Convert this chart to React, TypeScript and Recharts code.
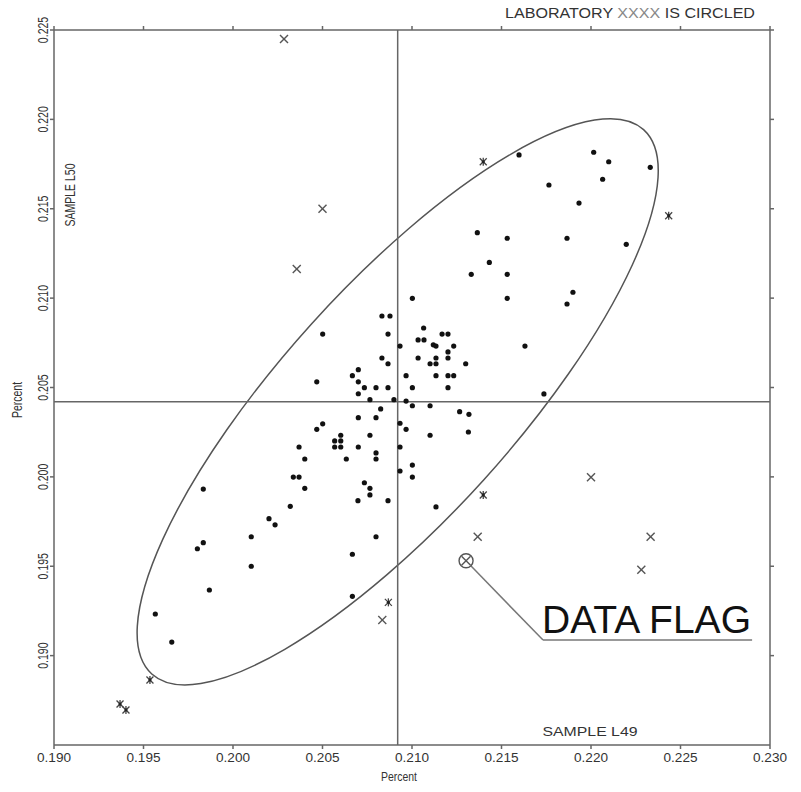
import React from 'react';
import { ScatterChart, Scatter, XAxis, YAxis, ReferenceLine, ReferenceArea, ReferenceDot } from 'recharts';

const FONT = "'Liberation Sans', Arial, sans-serif";

const xTicks = [0.19, 0.195, 0.2, 0.205, 0.21, 0.215, 0.22, 0.225, 0.23];
const yTicks = [0.19, 0.195, 0.2, 0.205, 0.21, 0.215, 0.22, 0.225];

// laboratories (filled dots)
const labPoints = [
  { x: 0.21598, y: 0.21801 }, { x: 0.22015, y: 0.21816 }, { x: 0.22099, y: 0.21763 }, { x: 0.22331, y: 0.21732 },
  { x: 0.22065, y: 0.21665 }, { x: 0.21765, y: 0.21633 }, { x: 0.21933, y: 0.21532 }, { x: 0.21365, y: 0.21366 },
  { x: 0.21532, y: 0.21335 }, { x: 0.21866, y: 0.21335 }, { x: 0.22197, y: 0.21301 }, { x: 0.21432, y: 0.212 },
  { x: 0.21331, y: 0.21133 }, { x: 0.21532, y: 0.21133 }, { x: 0.21532, y: 0.20999 }, { x: 0.21899, y: 0.21033 },
  { x: 0.21866, y: 0.20967 }, { x: 0.21002, y: 0.20999 }, { x: 0.20832, y: 0.209 }, { x: 0.20877, y: 0.209 },
  { x: 0.21065, y: 0.20833 }, { x: 0.21168, y: 0.20799 }, { x: 0.21201, y: 0.20799 }, { x: 0.20501, y: 0.20799 },
  { x: 0.20866, y: 0.20799 }, { x: 0.21034, y: 0.20766 }, { x: 0.21067, y: 0.20766 }, { x: 0.20933, y: 0.20732 },
  { x: 0.21119, y: 0.20739 }, { x: 0.21134, y: 0.20732 }, { x: 0.21233, y: 0.20732 }, { x: 0.21201, y: 0.20699 },
  { x: 0.20832, y: 0.20665 }, { x: 0.21034, y: 0.20665 }, { x: 0.21134, y: 0.20665 }, { x: 0.21201, y: 0.20665 },
  { x: 0.20866, y: 0.20633 }, { x: 0.21101, y: 0.20633 }, { x: 0.21134, y: 0.20633 }, { x: 0.213, y: 0.20633 },
  { x: 0.207, y: 0.206 }, { x: 0.20667, y: 0.20566 }, { x: 0.20967, y: 0.20566 }, { x: 0.21134, y: 0.20566 },
  { x: 0.21201, y: 0.20566 }, { x: 0.21233, y: 0.20566 }, { x: 0.20468, y: 0.20532 }, { x: 0.207, y: 0.20532 },
  { x: 0.20734, y: 0.20499 }, { x: 0.20799, y: 0.20499 }, { x: 0.20866, y: 0.20499 }, { x: 0.21002, y: 0.20499 },
  { x: 0.21201, y: 0.20499 }, { x: 0.207, y: 0.20465 }, { x: 0.20765, y: 0.20432 }, { x: 0.20899, y: 0.20432 },
  { x: 0.20967, y: 0.20424 }, { x: 0.21002, y: 0.20398 }, { x: 0.21101, y: 0.20398 }, { x: 0.20825, y: 0.2038 },
  { x: 0.21266, y: 0.20365 }, { x: 0.21318, y: 0.2035 }, { x: 0.207, y: 0.20331 }, { x: 0.20799, y: 0.20331 },
  { x: 0.20933, y: 0.203 }, { x: 0.20501, y: 0.20297 }, { x: 0.20468, y: 0.20266 }, { x: 0.20967, y: 0.20266 },
  { x: 0.21315, y: 0.20251 }, { x: 0.20602, y: 0.20233 }, { x: 0.20765, y: 0.20233 }, { x: 0.21101, y: 0.20233 },
  { x: 0.20568, y: 0.20201 }, { x: 0.20602, y: 0.20201 }, { x: 0.20568, y: 0.20167 }, { x: 0.20602, y: 0.20167 },
  { x: 0.20369, y: 0.20167 }, { x: 0.207, y: 0.20167 }, { x: 0.20933, y: 0.20167 }, { x: 0.20799, y: 0.20134 },
  { x: 0.20799, y: 0.201 }, { x: 0.20401, y: 0.201 }, { x: 0.20633, y: 0.201 }, { x: 0.21002, y: 0.20066 },
  { x: 0.20933, y: 0.20033 }, { x: 0.21002, y: 0.19999 }, { x: 0.20337, y: 0.19999 }, { x: 0.20369, y: 0.19999 },
  { x: 0.20734, y: 0.19967 }, { x: 0.20401, y: 0.19936 }, { x: 0.20765, y: 0.19936 }, { x: 0.20765, y: 0.19899 },
  { x: 0.20698, y: 0.19867 }, { x: 0.20866, y: 0.19867 }, { x: 0.19834, y: 0.19932 }, { x: 0.2032, y: 0.19835 },
  { x: 0.20201, y: 0.19766 }, { x: 0.20235, y: 0.19732 }, { x: 0.20102, y: 0.19665 }, { x: 0.19834, y: 0.19632 },
  { x: 0.19801, y: 0.19598 }, { x: 0.20799, y: 0.19665 }, { x: 0.20667, y: 0.19567 }, { x: 0.20102, y: 0.195 },
  { x: 0.19868, y: 0.19367 }, { x: 0.20667, y: 0.19332 }, { x: 0.19566, y: 0.19233 }, { x: 0.19658, y: 0.19076 },
  { x: 0.21737, y: 0.20464 }, { x: 0.21631, y: 0.20732 }, { x: 0.21134, y: 0.19832 },
];

// outliers drawn as crosses
const crossPoints = [
  { x: 0.20285, y: 0.2245 }, { x: 0.205, y: 0.215 }, { x: 0.20356, y: 0.21163 }, { x: 0.22, y: 0.19998 },
  { x: 0.21367, y: 0.19665 }, { x: 0.22333, y: 0.19665 }, { x: 0.22281, y: 0.19481 }, { x: 0.20834, y: 0.19199 },
];

// outliers drawn as asterisks
const starPoints = [
  { x: 0.21398, y: 0.21763 }, { x: 0.22434, y: 0.21461 }, { x: 0.21398, y: 0.19899 }, { x: 0.20868, y: 0.19298 },
  { x: 0.19536, y: 0.18864 }, { x: 0.19369, y: 0.18729 }, { x: 0.19402, y: 0.18696 },
];

// circled laboratory
const flaggedPoint = [{ x: 0.21302, y: 0.19531 }];
const flagLeader = [{ x: 0.2133, y: 0.19501 }, { x: 0.21732, y: 0.19087 }, { x: 0.229, y: 0.19087 }];

const medianX = 0.2092;
const medianY = 0.2042;

// confidence ellipse: centre, semi-axes (data units), rotation (deg)
const ellipseCx = 0.2092;
const ellipseCy = 0.2042;
const ellipseA = 0.02049;
const ellipseB = 0.0065;
const ellipseAngle = 47.9;

const AXIS = '#666';
const TXT = '#333';

const DotShape = (p: any) => <circle cx={p.cx} cy={p.cy} r={2.6} fill="#111" />;
const CrossShape = (p: any) => (
  <g stroke="#555" strokeWidth={1.4}>
    <line x1={p.cx - 4} y1={p.cy - 4} x2={p.cx + 4} y2={p.cy + 4} />
    <line x1={p.cx - 4} y1={p.cy + 4} x2={p.cx + 4} y2={p.cy - 4} />
  </g>
);
const StarShape = (p: any) => (
  <g stroke="#444" strokeWidth={1.3}>
    <line x1={p.cx - 3.5} y1={p.cy - 3.5} x2={p.cx + 3.5} y2={p.cy + 3.5} />
    <line x1={p.cx - 3.5} y1={p.cy + 3.5} x2={p.cx + 3.5} y2={p.cy - 3.5} />
    <line x1={p.cx} y1={p.cy - 4} x2={p.cx} y2={p.cy + 4} />
    <circle cx={p.cx} cy={p.cy} r={1.6} fill="#222" stroke="none" />
  </g>
);
const FlagShape = (p: any) => (
  <g stroke="#555" strokeWidth={1.4} fill="none">
    <circle cx={p.cx} cy={p.cy} r={7} />
    <line x1={p.cx - 4.5} y1={p.cy - 4.5} x2={p.cx + 4.5} y2={p.cy + 4.5} />
    <line x1={p.cx - 4.5} y1={p.cy + 4.5} x2={p.cx + 4.5} y2={p.cy - 4.5} />
  </g>
);

const EllipseShape = (p: any) => {
  const cx = p.x + p.width / 2;
  const cy = p.y + p.height / 2;
  return (
    <ellipse
      cx={cx}
      cy={cy}
      rx={Math.abs(p.width) / 2}
      ry={Math.abs(p.height) / 2}
      transform={`rotate(${-ellipseAngle} ${cx} ${cy})`}
      fill="none"
      stroke="#555"
      strokeWidth={1.5}
    />
  );
};

const XTick = (p: any) => (
  <text
    x={p.x}
    y={p.y + 11}
    textAnchor="middle"
    fontSize={12}
    fill={TXT}
    fontFamily={FONT}
    textLength={34}
    lengthAdjust="spacingAndGlyphs"
  >
    {Number(p.payload.value).toFixed(3)}
  </text>
);

const YTick = (p: any) => (
  <text
    transform={`translate(${p.x},${p.y}) rotate(-90) scale(1,1.4)`}
    textAnchor="middle"
    fontSize={10.5}
    fill={TXT}
    fontFamily={FONT}
  >
    {Number(p.payload.value).toFixed(3)}
  </text>
);

const FlagLabel = (p: any) => {
  const vb = p.viewBox || {};
  return (
    <text
      x={vb.x}
      y={vb.y - 6}
      fontSize={38}
      fill="#111"
      fontFamily={FONT}
      textLength={209}
      lengthAdjust="spacingAndGlyphs"
    >
      DATA FLAG
    </text>
  );
};

export default function App() {
  return (
    <div style={{ position: 'absolute', left: 0, top: 0, width: 801, height: 792, background: '#fff' }}>
      <ScatterChart width={801} height={792} margin={{ top: 26, right: 27, bottom: 7, left: 10 }}>
        <XAxis
          type="number"
          dataKey="x"
          domain={[0.19, 0.23]}
          ticks={xTicks}
          height={40}
          tickSize={4}
          stroke={AXIS}
          strokeWidth={1.5}
          tick={<XTick />}
          allowDataOverflow
        />
        <XAxis
          xAxisId="top"
          orientation="top"
          type="number"
          dataKey="x"
          domain={[0.19, 0.23]}
          ticks={xTicks}
          height={4}
          tickSize={4}
          stroke={AXIS}
          strokeWidth={1.5}
          tickFormatter={() => ''}
          allowDataOverflow
        />
        <YAxis
          type="number"
          dataKey="y"
          domain={[0.185, 0.225]}
          ticks={yTicks}
          width={44}
          tickSize={4}
          stroke={AXIS}
          strokeWidth={1.5}
          tick={<YTick />}
          allowDataOverflow
        />
        <YAxis
          yAxisId="right"
          orientation="right"
          type="number"
          dataKey="y"
          domain={[0.185, 0.225]}
          ticks={yTicks}
          width={4}
          tickSize={4}
          stroke={AXIS}
          strokeWidth={1.5}
          tickFormatter={() => ''}
          allowDataOverflow
        />
        <ReferenceLine x={medianX} stroke={AXIS} strokeWidth={1.5} />
        <ReferenceLine y={medianY} stroke={AXIS} strokeWidth={1.5} />
        <ReferenceArea
          x1={ellipseCx - ellipseA}
          x2={ellipseCx + ellipseA}
          y1={ellipseCy - ellipseB}
          y2={ellipseCy + ellipseB}
          ifOverflow="visible"
          shape={EllipseShape}
        />
        <ReferenceLine
          segment={[flagLeader[0], flagLeader[1]]}
          stroke="#777"
          strokeWidth={1.5}
        />
        <ReferenceLine
          segment={[flagLeader[1], flagLeader[2]]}
          stroke="#777"
          strokeWidth={1.5}
        />
        <ReferenceDot
          x={flagLeader[1].x}
          y={flagLeader[1].y}
          r={1}
          fill="none"
          stroke="none"
          label={{ content: FlagLabel }}
        />
        <Scatter data={labPoints} shape={DotShape} isAnimationActive={false} />
        <Scatter data={crossPoints} shape={CrossShape} isAnimationActive={false} />
        <Scatter data={starPoints} shape={StarShape} isAnimationActive={false} />
        <Scatter data={flaggedPoint} shape={FlagShape} isAnimationActive={false} />
        <text x={399} y={781} textAnchor="middle" fontSize={12} fill={TXT} fontFamily={FONT} textLength={36} lengthAdjust="spacingAndGlyphs">Percent</text>
        <text transform="translate(22,400) rotate(-90) scale(1,1.4)" textAnchor="middle" fontSize={10.5} fill={TXT} fontFamily={FONT}>Percent</text>
        <text transform="translate(75,195) rotate(-90) scale(1,1.4)" textAnchor="middle" fontSize={10.5} fill={TXT} fontFamily={FONT}>SAMPLE L50</text>
        <text x={590} y={736} textAnchor="middle" fontSize={12} fill={TXT} fontFamily={FONT} textLength={95} lengthAdjust="spacingAndGlyphs">SAMPLE L49</text>
        <text x={755} y={18} textAnchor="end" fontSize={14} fill={TXT} fontFamily={FONT} textLength={250} lengthAdjust="spacingAndGlyphs">
          LABORATORY <tspan fill="#888">XXXX</tspan> IS CIRCLED
        </text>
      </ScatterChart>
    </div>
  );
}
